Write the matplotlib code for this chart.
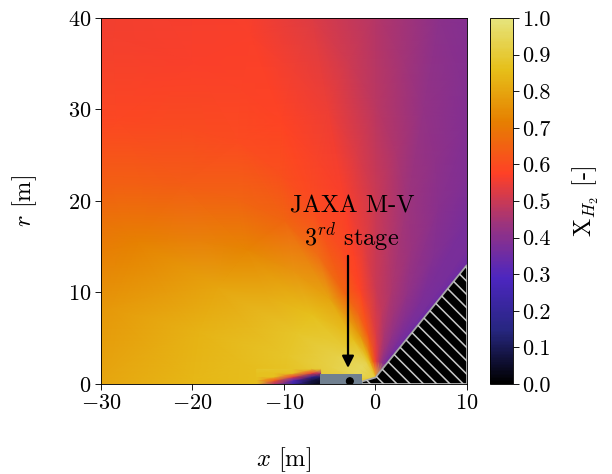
import matplotlib
matplotlib.use('Agg')

import numpy as np
import matplotlib.pyplot as plt
from matplotlib.colors import ListedColormap
from matplotlib.patches import Polygon, Rectangle, Circle
from matplotlib.ticker import FormatStrFormatter

plt.rcParams['font.family'] = 'serif'
plt.rcParams['font.serif'] = ['cmr10']
plt.rcParams['mathtext.fontset'] = 'cm'
plt.rcParams['axes.formatter.use_mathtext'] = True

# fan-shaped field around the nozzle exit
nozzle_xr = (0.0, 0.5)
theta_deg = [45, 50, 55, 60, 70, 80, 90, 100, 110, 120, 135, 150, 165, 180, 190]
rho_m = [0, 2, 5, 10, 20, 30, 40, 55]
x_h2 = [
    [0.90, 0.33, 0.33, 0.34, 0.35, 0.36, 0.36, 0.36],
    [0.90, 0.33, 0.33, 0.34, 0.35, 0.36, 0.36, 0.36],
    [0.90, 0.35, 0.36, 0.37, 0.37, 0.37, 0.37, 0.37],
    [0.90, 0.38, 0.38, 0.38, 0.37, 0.37, 0.37, 0.37],
    [0.90, 0.42, 0.42, 0.42, 0.40, 0.39, 0.38, 0.38],
    [0.90, 0.48, 0.46, 0.46, 0.44, 0.42, 0.41, 0.40],
    [0.90, 0.55, 0.53, 0.50, 0.50, 0.48, 0.47, 0.46],
    [0.90, 0.68, 0.63, 0.58, 0.57, 0.55, 0.53, 0.52],
    [0.90, 0.86, 0.78, 0.66, 0.60, 0.58, 0.57, 0.55],
    [0.90, 0.93, 0.86, 0.80, 0.66, 0.60, 0.57, 0.55],
    [0.90, 0.95, 0.90, 0.86, 0.73, 0.64, 0.59, 0.55],
    [0.90, 0.95, 0.92, 0.88, 0.80, 0.72, 0.65, 0.58],
    [0.90, 0.95, 0.92, 0.88, 0.83, 0.77, 0.72, 0.66],
    [0.90, 0.90, 0.90, 0.87, 0.84, 0.80, 0.78, 0.76],
    [0.90, 0.90, 0.90, 0.87, 0.84, 0.80, 0.78, 0.76],
]

# wake behind the rocket body
wake_x = [-13, -11, -9, -7, -6]
wake_r = [0, 0.4, 0.8, 1.2, 1.6]
wake_val = [
    [0.87, 0.45, 0.22, 0.06, 0.03],
    [0.87, 0.62, 0.30, 0.08, 0.05],
    [0.87, 0.87, 0.55, 0.20, 0.12],
    [0.87, 0.87, 0.87, 0.55, 0.45],
    [0.88, 0.88, 0.88, 0.88, 0.88],
]

plume_edge = [(-1.5, 0), (-1.5, 0.25), (0, 0.7), (10, 13), (10, 0)]
rocket_box = (-6.05, 0, 4.55, 1.1)
cbar_ticks = [0.0, 0.1, 0.2, 0.3, 0.4, 0.5, 0.6, 0.7, 0.8, 0.9, 1.0]

cmap = ListedColormap(plt.get_cmap('CMRmap')(np.linspace(0, 0.87, 256)))

fig = plt.figure(figsize=(7.65, 5.925), dpi=80)
ax = fig.add_axes([0.165, 0.19, 0.598, 0.772])
cax = fig.add_axes([0.8007, 0.19, 0.0376, 0.772])

th = np.radians(theta_deg)[:, None]
rh = np.array(rho_m)[None, :]
X = nozzle_xr[0] + rh * np.cos(th)
R = nozzle_xr[1] + rh * np.sin(th)
mesh = ax.pcolormesh(X, R, np.array(x_h2), cmap=cmap, vmin=0, vmax=1,
                     shading='gouraud', rasterized=True)

WX, WR = np.meshgrid(wake_x, wake_r)
ax.pcolormesh(WX, WR, np.array(wake_val), cmap=cmap, vmin=0, vmax=1,
              shading='gouraud', rasterized=True)

# plume (black with light diagonal hatching)
plume = Polygon(plume_edge, closed=True, facecolor='black',
                edgecolor='#a8a8a8', lw=1.6, zorder=3)
ax.add_patch(plume)
for c in np.arange(-2, 25, 1.45):
    ln, = ax.plot([c - 15, c + 15], [15, -15], color='#c8c8c8', lw=1.4,
                  zorder=3.1)
    ln.set_clip_path(plume)

# rocket body
ax.add_patch(Rectangle(rocket_box[:2], rocket_box[2], rocket_box[3],
                       facecolor='#708090', edgecolor='none', zorder=4))
ax.add_patch(Circle((-2.8, 0.3), 0.38, color='black', zorder=5))

ax.annotate('', xy=(-3, 1.75), xytext=(-3, 14),
            arrowprops=dict(arrowstyle='-|>', color='black', lw=2,
                            mutation_scale=22, shrinkA=0, shrinkB=0))
ax.text(-2.55, 17.4, 'JAXA M-V\n$3^{rd}$ stage', ha='center', va='center',
        fontsize=22)

ax.set_xlim(-30, 10)
ax.set_ylim(0, 40)
ax.set_xticks([-30, -20, -10, 0, 10])
ax.set_yticks([0, 10, 20, 30, 40])
ax.tick_params(labelsize=20, direction='out', length=5)
ax.set_xlabel('$x$ [m]', fontsize=22, labelpad=29)
ax.set_ylabel('$r$ [m]', fontsize=22, labelpad=26)

cb = fig.colorbar(mesh, cax=cax, ticks=cbar_ticks)
cb.ax.yaxis.set_major_formatter(FormatStrFormatter('%.1f'))
cb.ax.tick_params(labelsize=20, length=5)
cb.set_label('X$_{H_2}$ [-]', fontsize=22, labelpad=18)

fig.savefig('out.png', dpi=80)
